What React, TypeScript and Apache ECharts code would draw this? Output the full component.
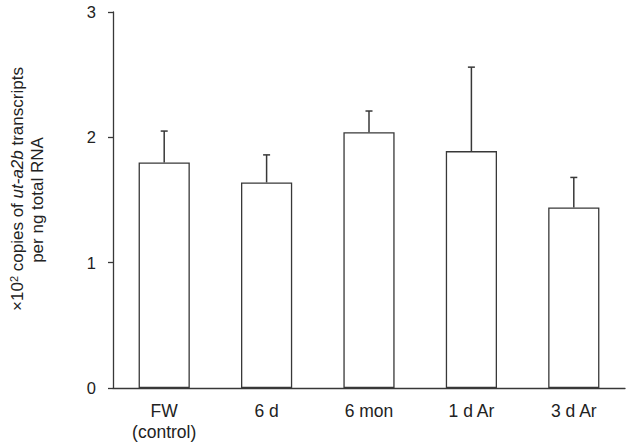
import React, { useEffect, useRef } from "react";
import * as echarts from "echarts";

const categories = ["FW\n(control)", "6 d", "6 mon", "1 d Ar", "3 d Ar"];
const means = [1.8, 1.64, 2.04, 1.89, 1.44];
const errors = [0.25, 0.22, 0.17, 0.67, 0.24];
const yTicks = [0, 1, 2, 3];

const LINE = "#383838";
const TEXT = "#222222";
const FONT = "'Liberation Sans', Arial, Helvetica, sans-serif";

export default function App() {
  const ref = useRef<HTMLDivElement>(null);
  useEffect(() => {
    if (!ref.current) return;
    const chart = echarts.init(ref.current, undefined, { renderer: "svg" });
    chart.setOption({
      animation: false,
      backgroundColor: "#ffffff",
      grid: { left: 113, right: 5, top: 12, bottom: 58, containLabel: false },
      xAxis: {
        type: "category",
        data: categories,
        z: 5,
        axisLine: { lineStyle: { color: LINE, width: 1.3 } },
        axisTick: { show: false },
        axisLabel: {
          color: TEXT,
          fontSize: 17.5,
          fontFamily: FONT,
          lineHeight: 21,
          margin: 12,
          interval: 0,
        },
      },
      yAxis: {
        type: "value",
        min: yTicks[0],
        max: yTicks[yTicks.length - 1],
        interval: 1,
        splitLine: { show: false },
        axisLine: { show: true, lineStyle: { color: LINE, width: 1.3 } },
        axisTick: { show: true, inside: false, length: 5, lineStyle: { color: LINE, width: 1.3 } },
        axisLabel: { color: TEXT, fontSize: 16.5, fontFamily: FONT, margin: 17 },
      },
      series: [
        {
          type: "bar",
          data: means,
          barWidth: "50%",
          itemStyle: { color: "#ffffff", borderColor: LINE, borderWidth: 1.3 },
          z: 2,
        },
        {
          type: "custom",
          z: 3,
          data: means.map((m, i) => [i, m, m + errors[i]]),
          renderItem: (params: any, api: any) => {
            const x = api.value(0);
            const base = api.coord([x, api.value(1)]);
            const top = api.coord([x, api.value(2)]);
            const half = 3.5;
            return {
              type: "group",
              children: [
                {
                  type: "line",
                  shape: { x1: base[0], y1: base[1], x2: top[0], y2: top[1] },
                  style: { stroke: LINE, lineWidth: 1.5 },
                },
                {
                  type: "line",
                  shape: { x1: top[0] - half, y1: top[1], x2: top[0] + half, y2: top[1] },
                  style: { stroke: LINE, lineWidth: 1.5 },
                },
              ],
            };
          },
        },
      ],
      graphic: [
        {
          type: "text",
          x: 17,
          y: 189,
          rotation: Math.PI / 2,
          style: {
            text: "{n|×10}{sup|2}{n| copies of }{i|ut-a2b}{n| transcripts}",
            align: "center",
            verticalAlign: "middle",
            rich: {
              n: { fontSize: 17, fontFamily: FONT, fill: TEXT },
              i: { fontSize: 17, fontFamily: FONT, fill: TEXT, fontStyle: "italic" },
              sup: { fontSize: 11, fontFamily: FONT, fill: TEXT, verticalAlign: "top", padding: [0, 0, 6, 0] },
            },
          },
        },
        {
          type: "text",
          x: 37,
          y: 200,
          rotation: Math.PI / 2,
          style: {
            text: "per ng total RNA",
            align: "center",
            verticalAlign: "middle",
            fontSize: 17,
            fontFamily: FONT,
            fill: TEXT,
          },
        },
      ],
    });
    return () => chart.dispose();
  }, []);
  return <div ref={ref} style={{ width: 630, height: 446, position: "absolute", left: 0, top: 0 }} />;
}
